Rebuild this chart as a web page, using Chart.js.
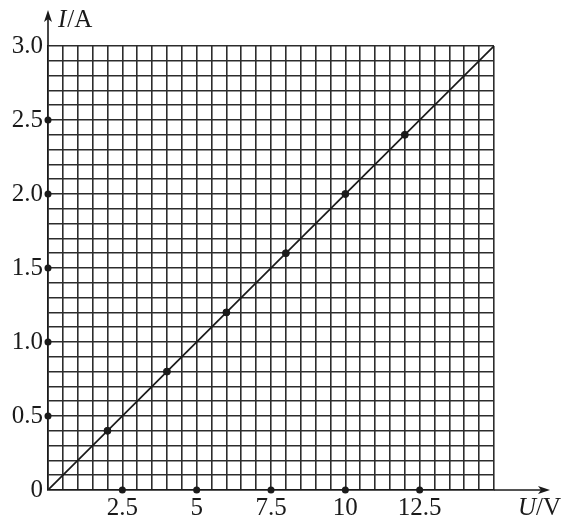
<!DOCTYPE html>
<html>
<head>
<meta charset="utf-8">
<script src="https://cdn.jsdelivr.net/npm/chart.js@4/dist/chart.umd.min.js"></script>
<style>
html,body{margin:0;padding:0;background:#fff;}
#wrap{width:566px;height:523px;position:relative;}
</style>
</head>
<body>
<div id="wrap"><canvas id="c" width="566" height="523"></canvas></div>
<script>
// Data
const uValues = [2, 4, 6, 8, 10, 12];
const iValues = [0.4, 0.8, 1.2, 1.6, 2.0, 2.4];
const fitU = [0, 15];
const fitI = [0, 3.0];
const xTickValues = [2.5, 5, 7.5, 10, 12.5];
const xTickLabels = ['2.5', '5', '7.5', '10', '12.5'];
const yTickValues = [0, 0.5, 1.0, 1.5, 2.0, 2.5, 3.0];
const yTickLabels = ['0', '0.5', '1.0', '1.5', '2.0', '2.5', '3.0'];
const yDotValues = [0.5, 1.0, 1.5, 2.0, 2.5];
const xTitleMain = 'U', xTitleUnit = '/V';
const yTitleMain = 'I', yTitleUnit = '/A';

const INK = '#1a1a1a';
const GRID = '#2c2c2c';
const FONT = '"Liberation Serif", "Times New Roman", serif';

function findLabel(vals, labels, v) {
  for (let k = 0; k < vals.length; k++) if (Math.abs(vals[k] - v) < 1e-6) return labels[k];
  return '';
}

const axisDecor = {
  id: 'axisDecor',
  afterDraw(chart) {
    const ctx = chart.ctx, a = chart.chartArea;
    const xs = chart.scales.x, ys = chart.scales.y;
    ctx.save();
    ctx.strokeStyle = INK; ctx.fillStyle = INK; ctx.lineWidth = 1.6;
    const x0 = a.left, y0 = a.bottom;
    // y axis extension + arrow
    ctx.beginPath(); ctx.moveTo(x0, a.top); ctx.lineTo(x0, a.top - 32); ctx.stroke();
    ctx.beginPath(); ctx.moveTo(x0, a.top - 36); ctx.lineTo(x0 - 4, a.top - 24); ctx.lineTo(x0, a.top - 27); ctx.lineTo(x0 + 4, a.top - 24); ctx.closePath(); ctx.fill();
    // x axis extension + arrow
    ctx.beginPath(); ctx.moveTo(a.right, y0); ctx.lineTo(a.right + 52, y0); ctx.stroke();
    ctx.beginPath(); ctx.moveTo(a.right + 56, y0); ctx.lineTo(a.right + 44, y0 - 4); ctx.lineTo(a.right + 47, y0); ctx.lineTo(a.right + 44, y0 + 4); ctx.closePath(); ctx.fill();
    // tick dots
    xTickValues.forEach(v => { ctx.beginPath(); ctx.arc(xs.getPixelForValue(v), y0, 3.5, 0, Math.PI * 2); ctx.fill(); });
    yDotValues.forEach(v => { ctx.beginPath(); ctx.arc(x0, ys.getPixelForValue(v), 3.5, 0, Math.PI * 2); ctx.fill(); });
    // titles
    ctx.textBaseline = 'alphabetic';
    ctx.textAlign = 'left';
    ctx.font = 'italic 25px ' + FONT;
    let tx = x0 + 10, ty = a.top - 19;
    ctx.fillText(yTitleMain, tx, ty);
    tx += ctx.measureText(yTitleMain).width + 1;
    ctx.font = '25px ' + FONT;
    ctx.fillText(yTitleUnit, tx, ty);
    ctx.font = 'italic 25px ' + FONT;
    tx = a.right + 24; ty = y0 + 25;
    ctx.fillText(xTitleMain, tx, ty);
    tx += ctx.measureText(xTitleMain).width;
    ctx.font = '25px ' + FONT;
    ctx.fillText(xTitleUnit, tx, ty);
    ctx.restore();
  }
};

new Chart(document.getElementById('c'), {
  type: 'scatter',
  data: {
    datasets: [
      {
        type: 'line',
        data: fitU.map((u, k) => ({ x: u, y: fitI[k] })),
        borderColor: INK, borderWidth: 1.7, pointRadius: 0, fill: false
      },
      {
        data: uValues.map((u, k) => ({ x: u, y: iValues[k] })),
        backgroundColor: INK, borderColor: INK, pointRadius: 3.5
      }
    ]
  },
  options: {
    responsive: false,
    animation: false,
    layout: { padding: { left: 0, top: 46, right: 72, bottom: 0 } },
    plugins: { legend: { display: false }, tooltip: { enabled: false } },
    scales: {
      x: {
        type: 'linear', min: 0, max: 15,
        afterFit: s => { s.height = 33; },
        ticks: {
          stepSize: 0.5, autoSkip: false, maxRotation: 0, padding: 3,
          color: INK, font: { family: FONT, size: 25 },
          callback: v => findLabel(xTickValues, xTickLabels, v)
        },
        grid: { color: GRID, lineWidth: 1.6, drawTicks: false },
        border: { color: INK, width: 1.6 }
      },
      y: {
        type: 'linear', min: 0, max: 3,
        afterFit: s => { s.width = 48; },
        ticks: {
          stepSize: 0.1, autoSkip: false, padding: 5,
          color: INK, font: { family: FONT, size: 25 },
          callback: v => findLabel(yTickValues, yTickLabels, v)
        },
        grid: { color: GRID, lineWidth: 1.6, drawTicks: false },
        border: { color: INK, width: 1.6 }
      }
    }
  },
  plugins: [axisDecor]
});
</script>
</body>
</html>
